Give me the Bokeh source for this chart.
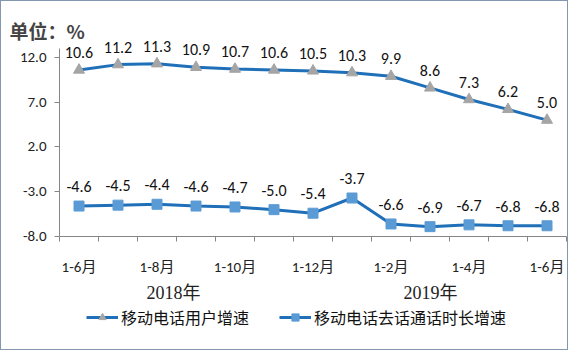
from bokeh.plotting import figure
from bokeh.layouts import column
from bokeh.models import (ColumnDataSource, FixedTicker, LinearAxis, Range1d, Legend, LegendItem, Title, NumeralTickFormatter)
from bokeh.core.properties import value
from bokeh.embed import file_html
from bokeh.resources import INLINE

months = ["1-6月", "1-7月", "1-8月", "1-9月", "1-10月", "1-11月", "1-12月",
          "1月", "1-2月", "1-3月", "1-4月", "1-5月", "1-6月"]
users_growth = [10.6, 11.2, 11.3, 10.9, 10.7, 10.6, 10.5, 10.3, 9.9, 8.6, 7.3, 6.2, 5.0]
calls_growth = [-4.6, -4.5, -4.4, -4.6, -4.7, -5.0, -5.4, -3.7, -6.6, -6.9, -6.7, -6.8, -6.8]
shown_labels = [0, 2, 4, 6, 8, 10, 12]
years = ["2018年", "2019年"]
year_pos = [2.42, 9.01]
y_ticks = [-8, -3, 2, 7, 12]
series_names = ["移动电话用户增速", "移动电话去话通话时长增速"]

xs = list(range(len(months)))
src = ColumnDataSource(dict(
    x=xs, u=users_growth, c=calls_growth,
    ut=[f"{v:.1f}" for v in users_growth],
    ct=[f"{v:.1f}" for v in calls_growth],
))

CJK = "'Noto Sans CJK SC'"
NUM = "Carlito, Calibri, 'Liberation Sans', 'Noto Sans CJK SC'"
line_col = "#1F70B8"
tri_col = "#A5A5A5"
sq_col = "#5B9BD5"

p = figure(frame_width=507, frame_height=188, output_backend="svg", toolbar_location=None,
           x_range=Range1d(-0.5, 12.5), y_range=Range1d(-8, 13),
           x_axis_location=None, y_axis_location=None,
           min_border_left=58, min_border_right=1, min_border_top=47, min_border_bottom=0)
p.grid.visible = False
p.outline_line_color = None
p.background_fill_color = "white"

# y axis
yax = LinearAxis(ticker=FixedTicker(ticks=y_ticks), formatter=NumeralTickFormatter(format="0.0"))
yax.axis_line_color = "#868686"
yax.major_tick_line_color = "#868686"
yax.major_tick_in = 0
yax.major_tick_out = 5
yax.minor_tick_line_color = None
yax.major_label_text_font = NUM
yax.major_label_text_font_size = "15px"
yax.major_label_text_color = "#222222"
yax.major_label_standoff = 8
p.add_layout(yax, "left")

# x axis with boundary ticks
xax = LinearAxis(ticker=FixedTicker(ticks=shown_labels,
                                    minor_ticks=[i - 0.5 for i in range(len(months) + 1)]),
                 major_label_overrides={i: months[i] for i in shown_labels})
xax.axis_line_color = "#868686"
xax.major_tick_line_color = None
xax.major_tick_out = 0
xax.major_tick_in = 0
xax.minor_tick_line_color = "#868686"
xax.minor_tick_in = 0
xax.minor_tick_out = 5
xax.major_label_text_font = NUM
xax.major_label_text_font_size = "15px"
xax.major_label_text_color = "#222222"
xax.major_label_standoff = 16
p.add_layout(xax, "below")

# year axis
yr = LinearAxis(ticker=FixedTicker(ticks=year_pos),
                major_label_overrides={year_pos[i]: years[i] for i in range(2)})
yr.axis_line_color = None
yr.major_tick_line_color = None
yr.minor_tick_line_color = None
yr.major_tick_out = 0
yr.major_tick_in = 0
yr.minor_tick_out = 0
yr.minor_tick_in = 0
yr.major_label_text_font = "'Liberation Serif', 'Noto Sans CJK SC'"
yr.major_label_text_font_size = "18px"
yr.major_label_text_color = "#222222"
yr.major_label_standoff = 4
p.add_layout(yr, "below")

p.line("x", "u", source=src, line_color=line_col, line_width=3)
p.scatter("x", "u", source=src, marker="triangle", size=11, fill_color=tri_col, line_color=tri_col)
p.line("x", "c", source=src, line_color=line_col, line_width=3)
p.scatter("x", "c", source=src, marker="square", size=10, fill_color=sq_col, line_color=sq_col)

p.text("x", "u", text="ut", source=src, y_offset=-12, text_align="center", text_baseline="bottom",
       text_font=value(NUM), text_font_size="16px", text_color="#111111", level="overlay")
p.text("x", "c", text="ct", source=src, y_offset=-14, text_align="center", text_baseline="bottom",
       text_font=value(NUM), text_font_size="16px", text_color="#111111", level="overlay")

p.title = Title(text="单位：%", text_font=CJK, text_font_size="19px", text_font_style="bold",
                align="left", offset=-50)
p.title_location = "above"

# legend strip (same series, drawn out of view so only the legend shows)
lg = figure(width=566, height=44, output_backend="svg", toolbar_location=None,
            x_range=Range1d(100, 101), y_range=Range1d(100, 101),
            x_axis_location=None, y_axis_location=None,
            min_border_left=0, min_border_right=0, min_border_top=0, min_border_bottom=0)
lg.grid.visible = False
lg.outline_line_color = None
l1 = lg.line("x", "u", source=src, line_color=line_col, line_width=3)
s1 = lg.scatter("x", "u", source=src, marker="triangle", size=11, fill_color=tri_col, line_color=tri_col)
l2 = lg.line("x", "c", source=src, line_color=line_col, line_width=3)
s2 = lg.scatter("x", "c", source=src, marker="square", size=10, fill_color=sq_col, line_color=sq_col)

legend = Legend(items=[LegendItem(label=series_names[0], renderers=[l1, s1]),
                       LegendItem(label=series_names[1], renderers=[l2, s2])],
                orientation="horizontal", location=(27, 20))
legend.border_line_color = None
legend.background_fill_alpha = 0
legend.label_text_font = CJK
legend.label_text_font_size = "16px"
legend.label_text_color = "#111111"
legend.label_height = 18
legend.glyph_height = 18
legend.glyph_width = 32
legend.spacing = 30
legend.padding = 0
legend.margin = 0
legend.label_standoff = 3
lg.add_layout(legend, "center")

layout = column(p, lg, spacing=0, styles={"border": "1px solid #8497B0"})

open("out.html", "w").write(file_html(layout, INLINE))
